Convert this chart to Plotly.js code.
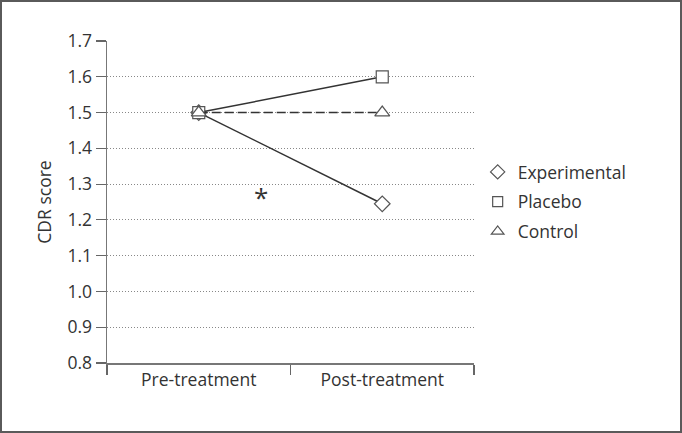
<!DOCTYPE html>
<html>
<head>
<meta charset="utf-8">
<script src="https://cdn.plot.ly/plotly-3.0.1.min.js"></script>
<style>
html,body{margin:0;padding:0;background:#fff;}
#frame{width:682px;height:433px;box-sizing:border-box;border:2px solid #5a5a5a;}
#chart{width:678px;height:429px;}
</style>
</head>
<body>
<div id="frame"><div id="chart"></div></div>
<script>
const categories = ["Pre-treatment", "Post-treatment"];
const experimental = [1.5, 1.245];
const placebo = [1.5, 1.6];
const control = [1.5, 1.5];
const seriesNames = ["Experimental", "Placebo", "Control"];
const yTicks = [0.8, 0.9, 1.0, 1.1, 1.2, 1.3, 1.4, 1.5, 1.6, 1.7];

const lineColor = "#333";
const markerLine = "#555";

function lineTrace(y, dash, symbol, size) {
  return {
    x: categories, y: y, type: "scatter", mode: "lines+markers",
    line: {color: lineColor, width: 1.5, dash: dash},
    marker: {symbol: symbol, size: size, color: "#fff", line: {color: markerLine, width: 1.2}},
    showlegend: false, cliponaxis: false, hoverinfo: "skip"
  };
}
function legendTrace(name, symbol, group, size) {
  return {
    x: [null], y: [null], type: "scatter", mode: "markers", name: name,
    legendgroup: group,
    marker: {symbol: symbol, size: size, color: "#fff", line: {color: markerLine, width: 1.2}}
  };
}

const data = [
  lineTrace(experimental, "solid", "diamond", 12),
  lineTrace(placebo, "solid", "square", 12),
  lineTrace(control, "9px,4px", "triangle-up", 13),
  legendTrace(seriesNames[0], "diamond", "a", 11),
  legendTrace(seriesNames[1], "square", "b", 10),
  legendTrace(seriesNames[2], "triangle-up", "c", 11)
];

const layout = {
  width: 678, height: 429,
  margin: {l: 105, r: 206, t: 39, b: 68},
  paper_bgcolor: "#fff", plot_bgcolor: "#fff",
  font: {family: "Open Sans, sans-serif", size: 17.5, color: "#333"},
  showlegend: true,
  legend: {x: 1.01, xanchor: "left", y: 0.5, yanchor: "middle",
           font: {size: 17.5, color: "#333"}, tracegroupgap: 4, bgcolor: "rgba(0,0,0,0)"},
  xaxis: {
    type: "category", range: [-0.5, 1.5], tickson: "boundaries",
    ticks: "outside", ticklen: 10, tickcolor: "#666", tickwidth: 1.2,
    showline: true, linecolor: "#777", linewidth: 1.5,
    showgrid: false, zeroline: false, fixedrange: true,
    tickfont: {size: 17.5, color: "#333"}
  },
  yaxis: {
    range: [0.8, 1.7], tickvals: yTicks, ticktext: yTicks.map(v => v.toFixed(1)),
    ticks: "outside", ticklen: 10, tickcolor: "#666", tickwidth: 1.2,
    showline: true, linecolor: "#777", linewidth: 1.5,
    showgrid: true, gridcolor: "#888", griddash: "1px,2px", gridwidth: 1,
    zeroline: false, fixedrange: true,
    title: {text: "CDR score", font: {size: 17.5, color: "#333"}, standoff: 11},
    tickfont: {size: 17.5, color: "#333"}
  },
  annotations: [{
    x: 0.34, y: 1.265, xref: "x", yref: "y", text: "*", showarrow: false,
    font: {size: 26, color: "#333"}
  }]
};

Plotly.newPlot("chart", data, layout, {displayModeBar: false, staticPlot: true});
</script>
</body>
</html>
